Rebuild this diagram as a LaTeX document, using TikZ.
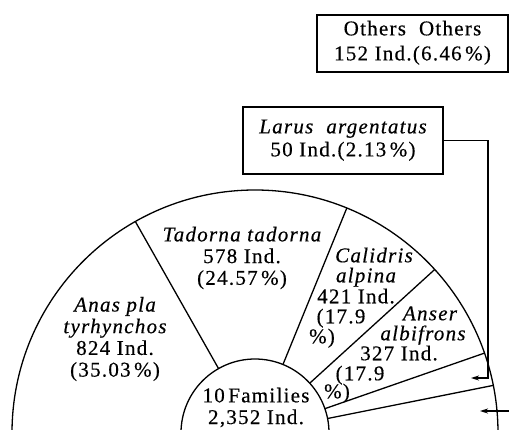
\documentclass[tikz,border=0pt]{standalone}
\usepackage{fontspec}
\setmainfont{Liberation Serif}[LetterSpace=6,FakeBold=0.4]
\usetikzlibrary{arrows.meta,calc}
\newcommand\lblfont{\fontsize{21}{21.7}\selectfont}
\begin{document}
\begin{tikzpicture}[x=1pt,y=-1pt,
  seg/.style={line width=1.3pt},
  lbl/.style={font=\lblfont, inner sep=0pt, align=center, anchor=center},
  ln/.style={lbl, text height=13pt, text depth=2.5pt},
  boxst/.style={draw, line width=1.5pt, inner sep=0pt, font=\lblfont, align=center},
  arr/.style={seg, -{Stealth[length=8pt,width=5pt]}}]
\useasboundingbox (0,0) rectangle (509,429);
\coordinate (c) at (255,433);
\begin{scope}
  \clip (0,0) rectangle (509,429);
  \draw[seg] (c) circle[radius=243];
  \draw[seg] (c) circle[radius=74];
\end{scope}
\foreach \a in {119.5,67.8,42.3,19.2,11.3}
  \draw[seg] ($(c)+(-\a:74)$) -- ($(c)+(-\a:243)$);

% labels
\node[lbl] (anas) at (115,339) {\itshape Anas pla\\\itshape tyrhynchos\\824 Ind.\\(35.03\,\%)};
\node[lbl] (tadorna) at (242,258) {\itshape Tadorna tadorna\\578 Ind.\\(24.57\,\%)};
\node[ln] (cal1) at (374,257) {\itshape Calidris};
\node[ln] (cal2) at (366,277) {\itshape alpina};
\node[ln] (cal3) at (356,298) {421 Ind.};
\node[ln] (cal4) at (341,318) {(17.9};
\node[ln] (cal5) at (322,338) {\%)};
\node[ln] (ans1) at (430,315) {\itshape Anser};
\node[ln] (ans2) at (423,335) {\itshape albifrons};
\node[ln] (ans3) at (399,355) {327 Ind.};
\node[ln] (ans4) at (360,375) {(17.9};
\node[ln] (ans5) at (337,393) {\%)};
\node[lbl] (fam) at (256,407.5) {10\,Families\\2,352 Ind.};

% boxes
\node[boxst, minimum width=191, minimum height=57] (others) at (412.5,43.5)
  {\raisebox{-4pt}{\begin{tabular}{@{}c@{}}Others\ \ Others\\[3.3pt]152 Ind.(6.46\,\%)\end{tabular}}};
\node[boxst, minimum width=200, minimum height=67] (larus) at (343,140.5)
  {\begin{tabular}{@{}c@{}}\itshape Larus\ \ argentatus\\[1.3pt]50 Ind.(2.13\,\%)\end{tabular}};

% connectors
\coordinate (lt) at (471,378);
\coordinate (os) at (509,411);
\coordinate (ot) at (480,411);
\draw[arr] (larus.east) -| (488,378) -- (lt);
\draw[arr] (os) -- (ot);
\end{tikzpicture}
\end{document}
